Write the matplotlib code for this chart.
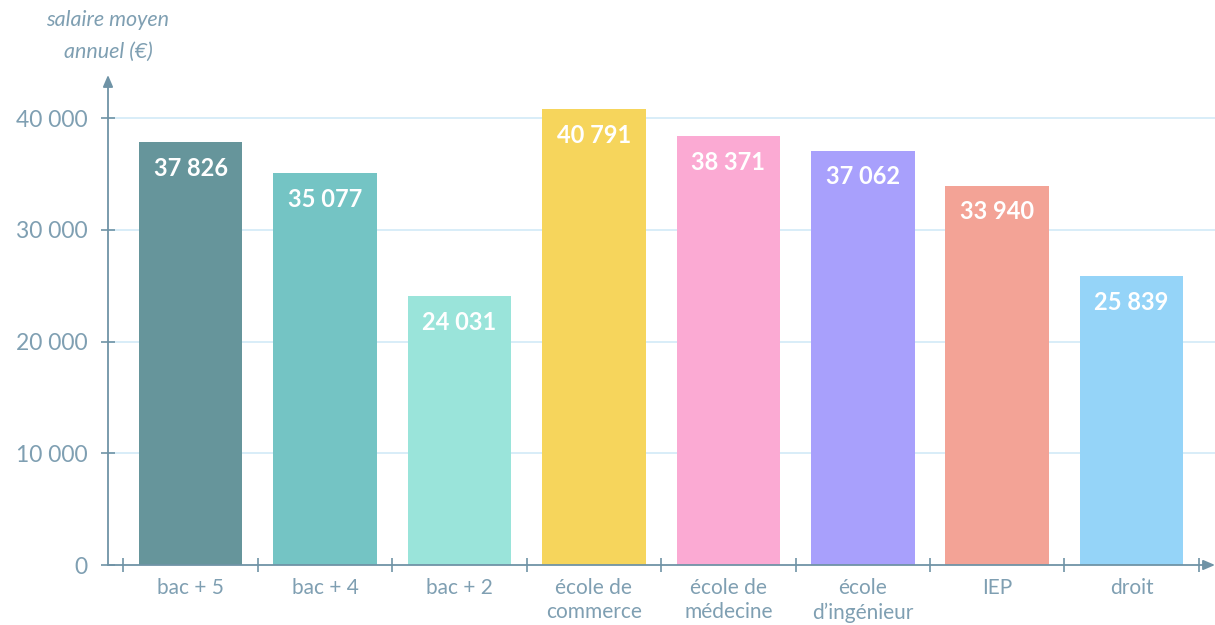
import matplotlib
matplotlib.use("Agg")
import matplotlib.pyplot as plt
from matplotlib.ticker import FixedLocator

plt.rcParams['font.family'] = ['Lato', 'DejaVu Sans']

categories = ["bac + 5", "bac + 4", "bac + 2", "école de\ncommerce", "école de\nmédecine",
              "école\nd\u2019ingénieur", "IEP", "droit"]
values = [37826, 35077, 24031, 40791, 38371, 37062, 33940, 25839]
labels = ["37 826", "35 077", "24 031", "40 791", "38 371", "37 062", "33 940", "25 839"]
colors = ["#66959b", "#74c4c4", "#9ae4da", "#f6d55c", "#fbaad3", "#a8a0fc", "#f3a396", "#95d4f8"]
yticks = [0, 10000, 20000, 30000, 40000]
ytick_labels = ["0", "10 000", "20 000", "30 000", "40 000"]

axis_col = "#6f93a6"
text_col = "#7f9fb2"
grid_col = "#d6ecf8"

fig = plt.figure(figsize=(12.15, 6.25), dpi=100)
ax = fig.add_axes([108/1215, 60/625, 1 - 108/1215, 490/625])

x = list(range(len(categories)))
bars = ax.bar(x, values, width=0.77, color=colors, zorder=3)

ax.set_xlim(-0.614, 7.62)
ax.set_ylim(0, 43850)

for xi, v, lab in zip(x, values, labels):
    ax.annotate(lab, (xi, v), xytext=(0, -26), textcoords="offset pixels",
                ha="center", va="center", color="white", fontsize=17, fontweight="bold", zorder=4)

# grid
for t in yticks[1:]:
    ax.axhline(t, color=grid_col, lw=1.3, zorder=1)

# spines
for s in ["top", "right", "left", "bottom"]:
    ax.spines[s].set_visible(False)
ax.annotate("", xy=(0, 1.0), xytext=(0, 0), xycoords="axes fraction",
            arrowprops=dict(arrowstyle="-|>,head_length=0.7,head_width=0.3", color=axis_col, lw=1.3,
                            shrinkA=0, shrinkB=0))
ax.annotate("", xy=(1.0, 0), xytext=(0, 0), xycoords="axes fraction",
            arrowprops=dict(arrowstyle="-|>,head_length=0.7,head_width=0.3", color=axis_col, lw=1.3,
                            shrinkA=0, shrinkB=0), annotation_clip=False)

ax.set_yticks(yticks)
ax.set_yticklabels(ytick_labels, color=text_col, fontsize=16.5)
ax.tick_params(axis="y", direction="inout", length=10, width=1.2, color=axis_col, pad=10)

ax.xaxis.set_major_locator(FixedLocator([i - 0.5 for i in range(len(categories) + 1)]))
ax.xaxis.set_minor_locator(FixedLocator(x))
ax.set_xticklabels([""] * (len(categories) + 1))
ax.set_xticklabels(categories, minor=True, color=text_col, fontsize=15, linespacing=1.3)
ax.tick_params(axis="x", which="major", direction="inout", length=10, width=1.2, color=axis_col)
ax.tick_params(axis="x", which="minor", length=0, pad=9)

fig.text(108/1215, 1 - 20/625, "salaire moyen", ha="center", va="center",
         color=text_col, fontsize=15.5, style="italic")
fig.text(108/1215, 1 - 52/625, "annuel (€)", ha="center", va="center",
         color=text_col, fontsize=15.5, style="italic")

fig.savefig("out.png", dpi=100)
